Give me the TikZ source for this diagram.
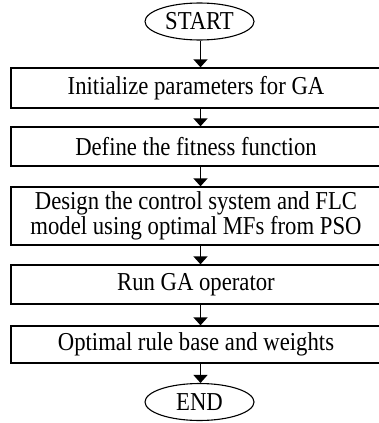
\documentclass[tikz,border=0pt]{standalone}
\usepackage{fontspec}
\setmainfont{Liberation Serif}[FakeStretch=0.88]
\usetikzlibrary{shapes.geometric,arrows.meta}
\begin{document}
\begin{tikzpicture}[x=1pt,y=-1pt,
  every node/.style={font=\fontsize{25.8}{25}\selectfont, inner sep=0pt},
  stepbox/.style={draw, line width=1.3pt, minimum width=370pt, align=center},
  term/.style={draw, ellipse, line width=1.1pt, minimum width=109pt, minimum height=37pt},
  flow/.style={line width=1.3pt, -{Triangle[length=8pt,width=14pt]}}]
\useasboundingbox (0,0) rectangle (379,423);
\node[term] (start) at (199.5,21.5) {START};
\node[stepbox, minimum height=40pt] (b1) at (196,88) {Initialize parameters for GA};
\node[stepbox, minimum height=39pt] (b2) at (196,146.5) {Define the fitness function};
\node[stepbox, minimum height=58pt] (b3) at (196,216) {Design the control system and FLC\\model using optimal MFs from PSO};
\node[stepbox, minimum height=39pt] (b4) at (196,284.5) {Run GA operator};
\node[stepbox, minimum height=37pt] (b5) at (196,344.5) {Optimal rule base and weights};
\node[term] (end) at (199.5,402) {END};
\coordinate (ax) at (200.5,0);
\draw[flow] (start.south -| ax) -- (b1.north -| ax);
\draw[flow] (b1.south -| ax) -- (b2.north -| ax);
\draw[flow] (b2.south -| ax) -- (b3.north -| ax);
\draw[flow] (b3.south -| ax) -- (b4.north -| ax);
\draw[flow] (b4.south -| ax) -- (b5.north -| ax);
\draw[flow] (b5.south -| ax) -- (end.north -| ax);
\end{tikzpicture}
\end{document}
